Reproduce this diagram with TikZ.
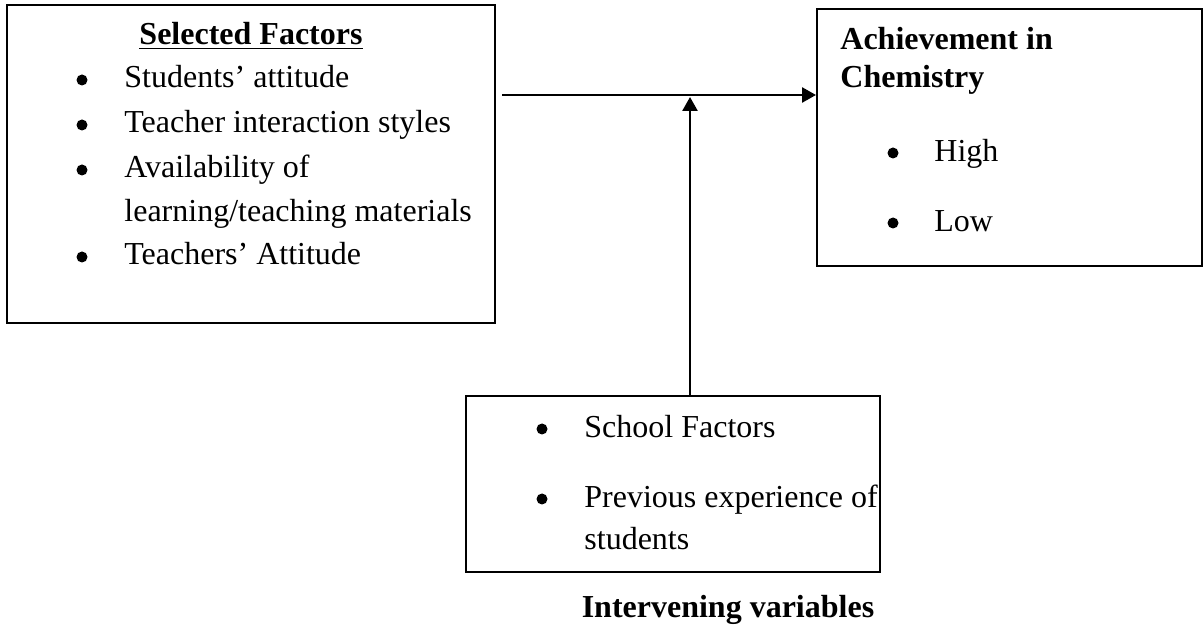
\documentclass[tikz,border=0pt]{standalone}
\usepackage{fontspec}
\setmainfont{Liberation Serif}
\usetikzlibrary{arrows.meta}
\begin{document}
\begin{tikzpicture}[x=0.5pt,y=-0.5pt,
  box/.style={draw,line width=1pt,inner sep=0pt,rectangle},
  txt/.style={inner sep=0pt,anchor=base west,font=\fontsize{16}{19}\selectfont},
  ttl/.style={inner sep=0pt,anchor=base,font=\fontsize{16}{19}\selectfont\bfseries},
  bul/.style={circle,fill,inner sep=0pt,minimum size=5.5pt},
  conn/.style={line width=1.3pt,-{Triangle[length=7pt,width=7.5pt]}}]
\useasboundingbox (0,0) rectangle (1204,635);
% boxes
\node[box,minimum width=244pt,minimum height=159pt] (left) at (251,164) {};
\node[box,minimum width=192.5pt,minimum height=128.5pt] (right) at (1009.5,137.5) {};
\node[box,minimum width=207pt,minimum height=88pt] (bottom) at (673,484) {};
% left box text
\node[ttl] (lt) at (251,45) {\underline{Selected Factors}};
\node[bul] (lb1) at (82,80) {};
\node[txt] (l1) at (124,88) {Students’ attitude};
\node[bul] (lb2) at (82,125) {};
\node[txt] (l2) at (124,133) {Teacher interaction styles};
\node[bul] (lb3) at (82,170) {};
\node[txt] (l3) at (124,178) {Availability of};
\node[txt] (l3b) at (124,222) {learning/teaching materials};
\node[bul] (lb4) at (82,257) {};
\node[txt] (l4) at (124,265) {Teachers’ Attitude};
% right box text
\node[txt,font=\fontsize{16}{19}\selectfont\bfseries] (r1) at (840,50) {Achievement in};
\node[txt,font=\fontsize{16}{19}\selectfont\bfseries] (r2) at (840,88) {Chemistry};
\node[bul] (rb1) at (893,153) {};
\node[txt] (rh) at (934,162) {High};
\node[bul] (rb2) at (893,223) {};
\node[txt] (rl) at (934,232) {Low};
% bottom box text
\node[bul] (bb1) at (542,429) {};
\node[txt] (b1) at (584,438) {School Factors};
\node[bul] (bb2) at (542,499) {};
\node[txt] (b2) at (584,508) {Previous experience of};
\node[txt] (b2b) at (584,550) {students};
\node[ttl] (iv) at (728,617) {Intervening variables};
% connectors
\coordinate (start) at (502,95);
\coordinate (meet) at (690,97);
\draw[conn] (start) -- (start -| right.west);
\draw[conn] (bottom.north -| meet) -- (meet);
\end{tikzpicture}
\end{document}
